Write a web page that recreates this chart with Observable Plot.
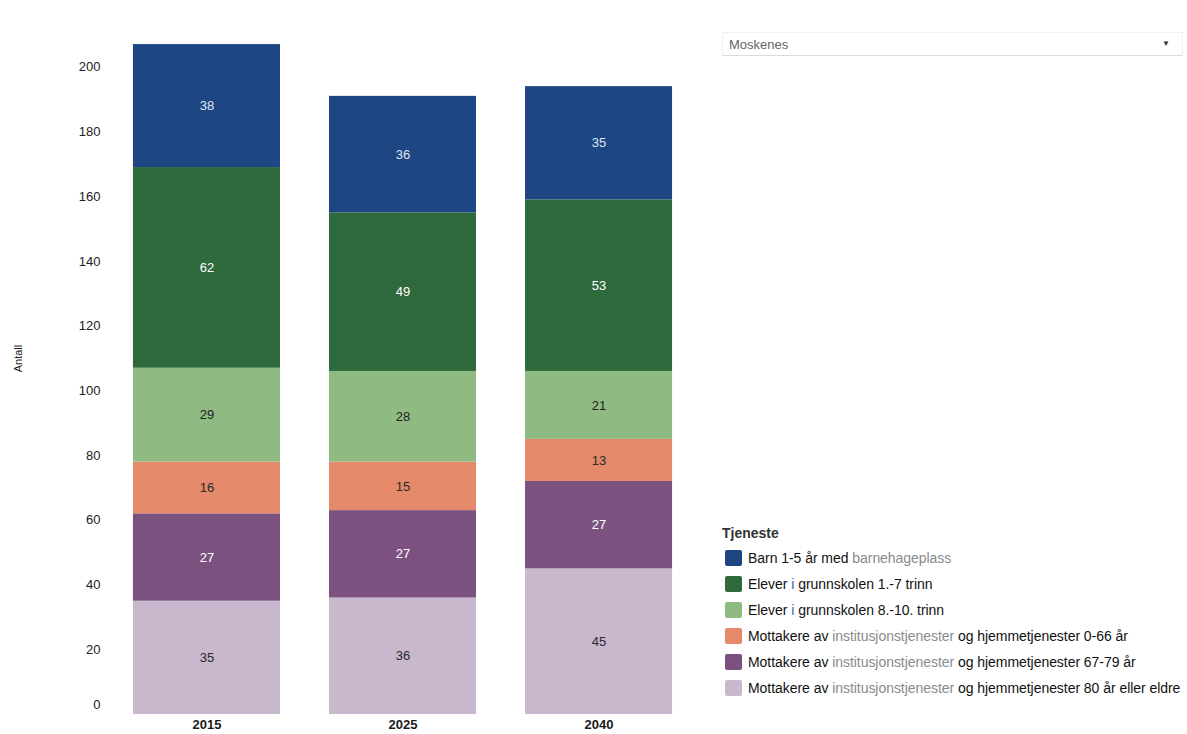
<!DOCTYPE html>
<html lang="no">
<head>
<meta charset="utf-8">
<script src="https://cdn.jsdelivr.net/npm/d3@7"></script>
<script src="https://cdn.jsdelivr.net/npm/@observablehq/plot@0.6"></script>
<style>
  html, body { margin: 0; padding: 0; background: #fff; }
  body { width: 1187px; height: 734px; position: relative; overflow: hidden;
         font-family: "Liberation Sans", Arial, sans-serif; }
  #chart { position: absolute; left: 0; top: 0; }
  #select { position: absolute; left: 722px; top: 32px; width: 461px; height: 24px;
            border: 1px solid #f0f0f0; border-bottom-color: #dcdcdc; box-sizing: border-box; }
  #select .value { position: absolute; left: 6px; top: 4px; font-size: 13px; color: #666; }
  #select .arrow { position: absolute; right: 12px; top: 6px; font-size: 8px; color: #333; }
  #legend { position: absolute; left: 722px; top: 524px; }
  #legend .title { font-weight: bold; font-size: 14px; line-height: 18px; color: #333; margin-bottom: 3px; }
  #legend .row { display: flex; align-items: center; height: 26px; }
  #legend .sw { width: 17px; height: 16px; border-radius: 2px; margin: 0 6px 0 3px; flex: none; }
  #legend .lab { font-size: 14px; color: #111; white-space: nowrap; letter-spacing: -0.05px; }
  #legend .lab .muted { color: #8a8a8a; }
  #legend .lab .blue { color: #3a5fb0; }
</style>
</head>
<body>
<div id="chart"></div>
<div id="select"><span class="value">Moskenes</span><span class="arrow">&#9660;</span></div>
<div id="legend"></div>
<script>
// Years on the x axis
const years = ["2015", "2025", "2040"];

// Services, listed top of stack first (legend order)
const services = [
  "Barn 1-5 år med barnehageplass",
  "Elever i grunnskolen 1.-7 trinn",
  "Elever i grunnskolen 8.-10. trinn",
  "Mottakere av institusjonstjenester og hjemmetjenester 0-66 år",
  "Mottakere av institusjonstjenester og hjemmetjenester 67-79 år",
  "Mottakere av institusjonstjenester og hjemmetjenester 80 år eller eldre"
];

// Fill colour per service, and the colour of its value labels
const serviceColors = ["#1e4682", "#2f6a3d", "#8fbb83", "#e5896b", "#7b527f", "#c8b7cd"];
const labelColors   = ["#dfe7f4", "#ffffff", "#222222", "#2a2a2a", "#ffffff", "#2a2a2a"];

// Number of people per service and year (same order as services)
const values2015 = [38, 62, 29, 16, 27, 35];
const values2025 = [36, 49, 28, 15, 27, 36];
const values2040 = [35, 53, 21, 13, 27, 45];

// Y axis ticks
const yTicks = [20, 40, 60, 80, 100, 120, 140, 160, 180, 200];

// Long table, bottom segment first so the stack builds upward
const byYear = {"2015": values2015, "2025": values2025, "2040": values2040};
const rows = [];
for (const year of years) {
  for (let i = services.length - 1; i >= 0; i--) {
    rows.push({year, service: services[i], value: byYear[year][i], idx: i});
  }
}

const chart = Plot.plot({
  width: 700,
  height: 734,
  marginLeft: 110,
  marginRight: 5,
  marginTop: 2,
  marginBottom: 20,
  style: {fontFamily: '"Liberation Sans", Arial, sans-serif', fontSize: "13px", color: "#222"},
  x: {domain: years, paddingInner: 0.25, paddingOuter: 0.117, round: false, label: null},
  y: {domain: [0, 220], label: null},
  color: {domain: services, range: serviceColors},
  marks: [
    Plot.barY(rows, {x: "year", y: "value", z: "service", fill: "service", order: null}),
    Plot.text(rows, Plot.stackY({
      x: "year", y: "value", z: "service", order: null,
      text: d => String(d.value),
      fill: d => labelColors[d.idx],
      fontSize: 13
    })),
    Plot.axisX({tickSize: 0, tickPadding: 0, dy: 5, fontWeight: "bold", fontSize: 13, fill: "#1a1a1a", label: null}),
    Plot.axisY({ticks: yTicks, tickSize: 0, tickPadding: 10, fontSize: 13, fill: "#222",
                label: "Antall", labelAnchor: "center", labelOffset: 96, labelArrow: "none"}),
    Plot.axisY({ticks: [0], tickSize: 0, tickPadding: 10, dy: -10, fontSize: 13, fill: "#222", label: null})
  ]
});
document.getElementById("chart").appendChild(chart);

// Adjust the rotated axis title size
chart.querySelectorAll("g[aria-label='y-axis label'] text").forEach(t => t.setAttribute("font-size", "11"));

// Legend built from the same services and colours
const legend = document.getElementById("legend");
const title = document.createElement("div");
title.className = "title";
title.textContent = "Tjeneste";
legend.appendChild(title);
const muted = ["barnehageplass", "institusjonstjenester"];
services.forEach((s, i) => {
  const row = document.createElement("div");
  row.className = "row";
  const sw = document.createElement("span");
  sw.className = "sw";
  sw.style.background = serviceColors[i];
  const lab = document.createElement("span");
  lab.className = "lab";
  s.split(/(\s+)/).forEach(part => {
    if (muted.includes(part) || part === "i") {
      const m = document.createElement("span");
      m.className = part === "i" ? "blue" : "muted";
      m.textContent = part;
      lab.appendChild(m);
    } else {
      lab.appendChild(document.createTextNode(part));
    }
  });
  row.appendChild(sw);
  row.appendChild(lab);
  legend.appendChild(row);
});
</script>
</body>
</html>
